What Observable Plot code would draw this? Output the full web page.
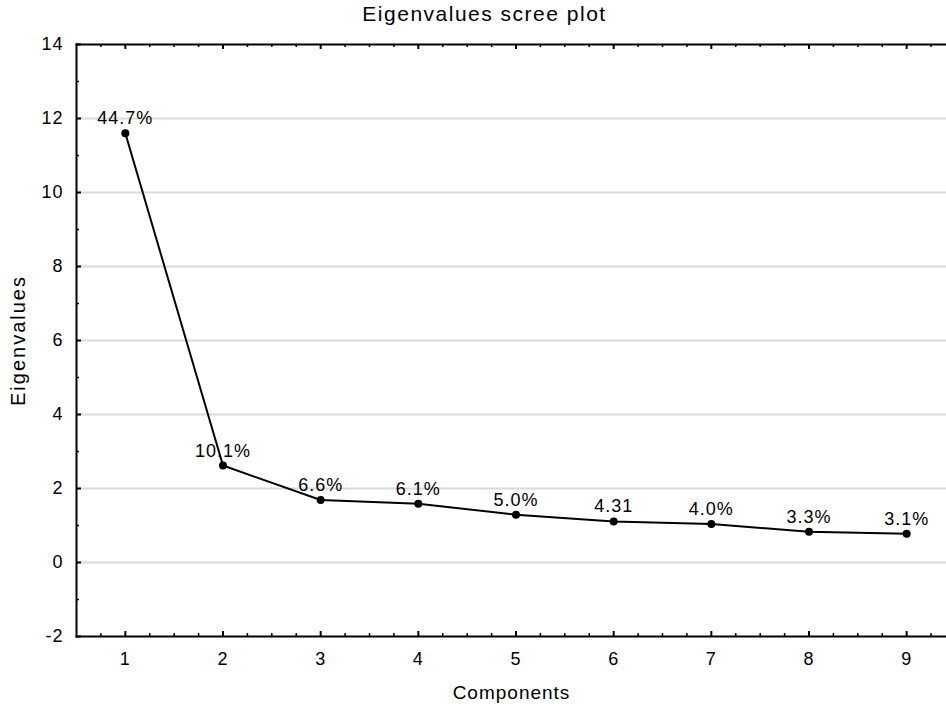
<!DOCTYPE html>
<html>
<head>
<meta charset="utf-8">
<script src="https://cdn.jsdelivr.net/npm/d3@7"></script>
<script src="https://cdn.jsdelivr.net/npm/@observablehq/plot@0.6"></script>
<style>
  html, body { margin: 0; padding: 0; background: white; }
  #chart svg { overflow: hidden; display: block; }
  #chart svg text { letter-spacing: 1px; }
  #chart svg g.title text { letter-spacing: 1.5px; }
  #chart svg g.ylabel text { letter-spacing: 2px; }
</style>
</head>
<body>
<div id="chart"></div>
<script>
// ---- data ----
const components = [1, 2, 3, 4, 5, 6, 7, 8, 9];
const eigenvalues = [11.60, 2.62, 1.69, 1.59, 1.29, 1.11, 1.04, 0.83, 0.78];
const pctLabels = ["44.7%", "10.1%", "6.6%", "6.1%", "5.0%", "4.31", "4.0%", "3.3%", "3.1%"];
const yTicks = [-2, 0, 2, 4, 6, 8, 10, 12, 14];
const gridValues = [0, 2, 4, 6, 8, 10, 12];
const minorYTicks = [-1, 1, 3, 5, 7, 9, 11, 13];

const rows = components.map((c, i) => ({c, v: eigenvalues[i], label: pctLabels[i]}));

// ---- layout ----
const W = 946, H = 710;
const mL = 76, mT = 44, mB = 74;
const xDomain = [0.5, 9.5], xRange = [76, 955];
const yDomain = [-2, 14], yRange = [636, 44];
const pxX = (xRange[1] - xRange[0]) / (xDomain[1] - xDomain[0]);
const pxY = (yRange[0] - yRange[1]) / (yDomain[1] - yDomain[0]);
const minorX = d3.range(0.75, 9.5, 0.25).filter(v => Math.abs(v % 1) > 1e-9);

const font = "'Liberation Sans', Arial, Helvetica, sans-serif";

const chart = Plot.plot({
  width: W, height: H,
  marginLeft: mL, marginRight: 0, marginTop: mT, marginBottom: mB,
  style: {fontFamily: font, fontSize: "18px", background: "white", color: "black"},
  x: {domain: xDomain, range: xRange},
  y: {domain: yDomain, range: yRange},
  marks: [
    Plot.ruleY(gridValues, {y: d => d, x1: xDomain[0], x2: xDomain[1], stroke: "#dadada", strokeWidth: 2}),
    // frame edges
    Plot.frame({anchor: "left", stroke: "black", strokeWidth: 2}),
    Plot.frame({anchor: "top", stroke: "black", strokeWidth: 2}),
    Plot.frame({anchor: "bottom", stroke: "black", strokeWidth: 2}),
    // x ticks bottom/top (inward)
    Plot.ruleX(components, {x: d => d, y1: yDomain[0], y2: yDomain[0] + 5 / pxY, stroke: "black", strokeWidth: 2}),
    Plot.ruleX(minorX, {x: d => d, y1: yDomain[0], y2: yDomain[0] + 3 / pxY, stroke: "black", strokeWidth: 1.5}),
    Plot.ruleX(components, {x: d => d, y1: yDomain[1], y2: yDomain[1] - 5 / pxY, stroke: "black", strokeWidth: 2}),
    Plot.ruleX(minorX, {x: d => d, y1: yDomain[1], y2: yDomain[1] - 3 / pxY, stroke: "black", strokeWidth: 1.5}),
    // y ticks left (inward)
    Plot.ruleY(yTicks, {y: d => d, x1: xDomain[0], x2: xDomain[0] + 5 / pxX, stroke: "black", strokeWidth: 2}),
    Plot.ruleY(minorYTicks, {y: d => d, x1: xDomain[0], x2: xDomain[0] + 3 / pxX, stroke: "black", strokeWidth: 1.5}),
    // tick labels
    Plot.axisX(components, {tickSize: 0, tickPadding: 16, label: null, fontSize: 18, tickFormat: d => String(d)}),
    Plot.axisY(yTicks, {tickSize: 0, tickPadding: 13, label: null, fontSize: 18, tickFormat: d => String(d)}),
    // data
    Plot.line(rows, {x: "c", y: "v", stroke: "black", strokeWidth: 2}),
    Plot.dot(rows, {x: "c", y: "v", r: 4, fill: "black", stroke: "none"}),
    Plot.text(rows, {x: "c", y: "v", text: "label", dy: -9, lineAnchor: "bottom", fontSize: 18}),
    // titles
    Plot.text(["Eigenvalues scree plot"], {frameAnchor: "top", dx: -27, dy: -24, lineAnchor: "bottom", fontSize: 21, className: "title"}),
    Plot.text(["Eigenvalues"], {frameAnchor: "left", textAnchor: "middle", dx: -58, rotate: -90, fontSize: 20, className: "ylabel"}),
    Plot.text(["Components"], {frameAnchor: "bottom", dy: 62, fontSize: 19})
  ]
});
document.getElementById("chart").appendChild(chart);
</script>
</body>
</html>
